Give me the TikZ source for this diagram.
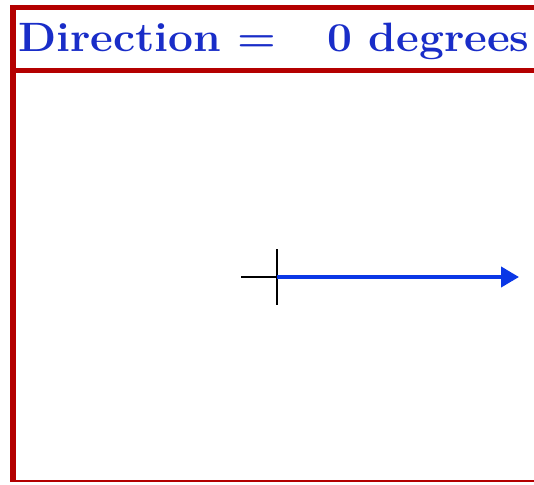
\documentclass[tikz,border=0pt]{standalone}
\usepackage{xcolor}
\usepackage{tikz}
\usetikzlibrary{arrows.meta, positioning}

\definecolor{frameRed}{RGB}{180,0,0}
\definecolor{textBlue}{RGB}{25,45,200}
\definecolor{arrowBlue}{RGB}{10,55,230}

\begin{document}
\begin{tikzpicture}[
  x=1pt, y=-1pt,
  frame/.style={frameRed, line cap=butt},
  lbl/.style={anchor=base west, inner sep=0pt, text=textBlue, xscale=1.08,
              font=\fontsize{41}{48}\selectfont\bfseries},
  cross/.style={black, line width=1.4pt},
  vec/.style={-{Triangle[length=18pt,width=20pt]}, arrowBlue, line width=4pt}
]
  \useasboundingbox (0,0) rectangle (534,484);
  \fill[white] (0,0) rectangle (534,484);

  % frame
  \fill[frame] (10,5) rectangle (16,482);
  \fill[frame] (10,5) rectangle (534,10);
  \fill[frame] (10,68) rectangle (534,73);
  \fill[frame] (10,479.5) rectangle (534,482);

  % header
  \node[lbl] (title) at (18,52) {Direction =};
  \node[lbl] (value) at (327,52) {0 degrees};

  % origin and direction vector
  \coordinate (origin) at (277,277);
  \coordinate (west)   at (241,277);
  \coordinate (north)  at (277,249);
  \coordinate (south)  at (277,305);
  \coordinate (tip)    at (519,277);

  \draw[cross] (west) -- (origin);
  \draw[cross] (north) -- (south);
  \draw[vec] (origin) -- (tip);
\end{tikzpicture}
\end{document}
